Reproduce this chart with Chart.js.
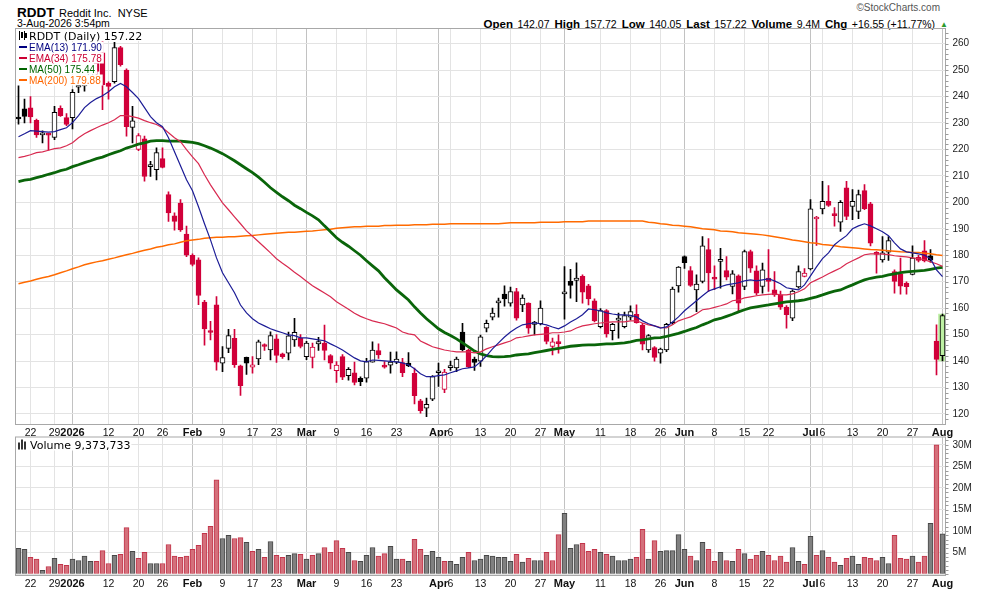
<!DOCTYPE html>
<html>
<head>
<meta charset="utf-8">
<script src="https://cdn.jsdelivr.net/npm/chart.js@4.4.1/dist/chart.umd.min.js"></script>
<style>
body{margin:0;background:#fff;width:990px;height:591px;position:relative;overflow:hidden;font-family:"Liberation Sans",Arial,sans-serif;color:#000}
canvas{position:absolute;left:0}
.t{position:absolute;white-space:nowrap}
#ohlc b{font-size:11.5px}
#ohlc span{font-size:10.5px;margin-right:5px}
#ohlc i{font-style:normal;color:#2d9b2d;font-size:8px;position:relative;top:-1px}
</style>
</head>
<body>
<div class="t" style="left:17px;top:3px"><b style="font-size:13.5px">RDDT</b> <span style="font-size:11px">Reddit Inc.&nbsp; NYSE</span></div>
<div class="t" style="left:17px;top:17px;font-size:10.5px">3-Aug-2026 3:54pm</div>
<div class="t" style="right:50px;top:2px;font-size:10px;color:#555">&copy;StockCharts.com</div>
<div class="t" id="ohlc" style="right:42px;top:14px"></div>
<canvas id="price" width="990" height="440" style="top:0"></canvas>
<canvas id="vol" width="990" height="167" style="top:424px"></canvas>
<script>
// trading days shown
var dates = ['2025-12-18','2025-12-19','2025-12-22','2025-12-23','2025-12-24','2025-12-26','2025-12-29','2025-12-30','2025-12-31',
'2026-01-02','2026-01-05','2026-01-06','2026-01-07','2026-01-08','2026-01-09','2026-01-12','2026-01-13','2026-01-14','2026-01-15','2026-01-16','2026-01-20','2026-01-21','2026-01-22','2026-01-23','2026-01-26','2026-01-27','2026-01-28','2026-01-29','2026-01-30',
'2026-02-02','2026-02-03','2026-02-04','2026-02-05','2026-02-06','2026-02-09','2026-02-10','2026-02-11','2026-02-12','2026-02-13','2026-02-17','2026-02-18','2026-02-19','2026-02-20','2026-02-23','2026-02-24','2026-02-25','2026-02-26','2026-02-27',
'2026-03-02','2026-03-03','2026-03-04','2026-03-05','2026-03-06','2026-03-09','2026-03-10','2026-03-11','2026-03-12','2026-03-13','2026-03-16','2026-03-17','2026-03-18','2026-03-19','2026-03-20','2026-03-23','2026-03-24','2026-03-25','2026-03-26','2026-03-27','2026-03-30','2026-03-31',
'2026-04-01','2026-04-02','2026-04-06','2026-04-07','2026-04-08','2026-04-09','2026-04-10','2026-04-13','2026-04-14','2026-04-15','2026-04-16','2026-04-17','2026-04-20','2026-04-21','2026-04-22','2026-04-23','2026-04-24','2026-04-27','2026-04-28','2026-04-29','2026-04-30',
'2026-05-01','2026-05-04','2026-05-05','2026-05-06','2026-05-07','2026-05-08','2026-05-11','2026-05-12','2026-05-13','2026-05-14','2026-05-15','2026-05-18','2026-05-19','2026-05-20','2026-05-21','2026-05-22','2026-05-26','2026-05-27','2026-05-28','2026-05-29',
'2026-06-01','2026-06-02','2026-06-03','2026-06-04','2026-06-05','2026-06-08','2026-06-09','2026-06-10','2026-06-11','2026-06-12','2026-06-15','2026-06-16','2026-06-17','2026-06-18','2026-06-22','2026-06-23','2026-06-24','2026-06-25','2026-06-26','2026-06-29','2026-06-30',
'2026-07-01','2026-07-02','2026-07-06','2026-07-07','2026-07-08','2026-07-09','2026-07-10','2026-07-13','2026-07-14','2026-07-15','2026-07-16','2026-07-17','2026-07-20','2026-07-21','2026-07-22','2026-07-23','2026-07-24','2026-07-27','2026-07-28','2026-07-29','2026-07-30','2026-07-31',
'2026-08-03'];

var open = [232,235.3,235.7,231,225.5,225.8,224.5,235.5,232,232,
243.5,244,245,254,256.5,245,245.6,258.5,250,228.3,
220,224,213.5,212.3,216.5,202.9,194.9,199.7,188,180,
178.3,162.3,151,161.3,139.2,144.8,148.6,138.2,141.4,137.7,
140.8,145.8,144.2,148.4,142.7,143,148,148.6,141.7,141.4,
146.5,146.8,142.1,136.4,141.7,134.5,135.6,133.5,133.5,139.6,
144,138.5,138.5,139.6,139.4,139.2,135.4,125,122.2,125.6,
135.6,129.3,137.5,137.4,151,144.2,140.8,140,152.4,156.6,
162,165.3,161.9,166.3,161.2,161.9,153.9,154.1,152.8,145.5,
146.9,165.4,170.1,170.5,172,168.4,162.8,153,159.1,151.5,
155.5,153,156.6,157.7,153.6,144.2,145.1,143,144.2,154.5,
168.4,179.5,174.2,166.9,170.1,182.1,171.3,177.7,174.2,168.2,
172.2,168.2,181.4,174.1,168.2,171.4,166.9,165,160.4,156.2,
168,172,174.8,193.7,197.5,200.4,195.3,192.5,205.5,198.5,
196.6,204.4,199.4,181,178.2,181.2,173.8,173,169.5,172.8,
179.2,181.7,179.8,147.6,142.07];

var high = [244.5,239,240,231.5,227,226,236.3,236.5,233.5,242.6,
245,245,252,256,261,245.5,260.5,259,250.5,236.3,
226,225,215.5,220.6,220.6,204,196,201,191,180.5,
179,163,155,164.4,145.5,152,152,138.5,141.5,141.7,
147.9,146.5,151.1,150,143,151,156.2,150,147.5,146.8,
149,153.6,142.5,139.8,142.5,137.5,139.6,134,141,147.3,
146.5,139.8,143.4,143.5,141,143.2,137.4,125.5,126,134.5,
139.2,136.9,140,141.5,154.3,144.5,141.5,149.8,155.5,160,
163.8,168.4,168,167.5,165,162,155,162.8,153,148.7,
149.9,175.7,174.7,177.1,172.6,169,163.5,159.8,159.5,154.3,
158.1,158.5,160.9,161.3,154.3,150,145.5,144.9,154.3,168,
175.7,179.8,175.7,172.6,187.1,186.3,176,182.6,179.5,174.2,
172.6,182,182,176,177,182.1,173.8,166.5,161,166.9,
176,175,201,194.7,207.9,206.3,198,200.7,207.9,204.8,
204.6,206.7,200,181.4,187.1,187.1,174.5,178.9,170,183.6,
180,185.5,182.1,153.7,157.72];

var low = [229.5,230,230,224.5,222.5,219.7,223.7,232.5,229,227.7,
241.4,242,244.5,248,235,239,245,251.5,225,222.5,
219.5,208,209.8,208.5,213,192.8,189.5,189,179.5,176,
161.3,146,148,136.6,136,143.2,137.6,127,135,135.4,
138.6,144,140.4,139.5,141,140.4,145.5,145,140.5,137.4,
144,140.4,137,131.9,133,132.8,131,130.7,132,139.6,
141,137.3,135.4,139,134.1,137.9,123.8,120.3,119,125,
130.4,128.1,136.5,136,143.8,137.5,136.5,138,151,155.6,
156.6,160.8,160.8,155.5,158.7,150.5,149.9,153.7,146.5,142.3,
143,155.8,163.8,162.5,161.9,161.2,154.8,152.5,149,148,
148.7,152.5,155.6,154.3,144.2,143.3,140,139.2,143.6,153.9,
166,175,168.2,158.7,169.5,166.3,167,167.6,170.7,165.4,
158.7,167,173.5,165,165.7,166.3,164.4,159.5,152.4,155.3,
167.6,171.8,174.5,183.7,195.6,198.5,191,189,193.4,193.4,
193.8,197.2,183.5,173.2,177.4,178,165.7,165.3,165.3,172.6,
177.5,177.5,177.4,134.8,140.05];

var close = [231.5,232.5,232.3,225.5,225.8,225.4,234,232.8,229.4,241.6,
244,244.2,251,249.5,244.5,243.8,258.5,252,228.6,230.8,
225.2,209.8,213.8,218.8,213.2,196,192.8,189.6,180,176.5,
164.8,152.2,150.8,139.6,141.3,149.6,138.6,130.7,139.2,138.6,
147.3,145.5,149.6,142.1,141.7,149.5,150.9,145.5,146.8,145.3,
147.4,144,139.2,138.5,133.9,136.9,131.9,132.2,139.8,144.2,
142.3,137.7,139.6,140.8,135.6,138.2,126.9,121.3,123.7,134.1,
136,135.8,138.3,140.8,144.3,137.9,139.5,149.2,154.3,158.1,
162.5,163.5,166.3,156.2,163.8,152.4,154.7,160,147.4,147.3,
146.6,166.2,168.6,171.4,166,163.5,155.2,159.1,150.3,153.9,
155.8,157.2,158.7,154.5,146.4,149.6,141.4,144.5,153.9,167.2,
175.5,177.2,168.6,169.1,183.6,173.3,171,178,171.7,173,
161.9,181.4,175.1,165.7,174.5,170.1,165,160.4,157.5,166.5,
173.8,173.3,197.5,194.4,200.4,198.8,195,200,194.7,200.4,
202.9,197.6,184.6,180.3,180.9,185.5,170.1,168.3,168.1,178.9,
178,177.9,178.1,140.67,157.22];

// volume in millions of shares
var volume = [6.0,5.8,3.9,3.5,0.9,1.8,3.7,2.3,2.1,3.5,
3.2,4.2,3.0,3.0,5.5,2.5,4.4,4.6,10.8,5.3,
3.7,5.1,2.5,2.5,2.5,6.9,4.2,3.9,4.2,5.8,
6.7,9.5,11.1,21.9,8.3,9.0,8.3,8.5,7.4,5.3,
5.8,3.9,7.6,4.4,3.9,4.4,4.8,4.6,3.5,4.4,
4.8,6.2,5.1,7.8,6.0,5.1,3.2,3.0,4.4,6.2,
4.2,4.8,6.5,3.5,3.5,3.0,8.1,5.8,4.4,5.3,
3.9,3.0,3.0,2.3,3.9,5.1,3.2,3.5,4.4,4.2,
3.9,3.9,3.0,4.6,2.8,3.7,3.2,3.2,5.1,3.2,
9.2,14.1,6.0,6.9,7.2,5.3,5.8,5.1,4.6,4.2,
3.2,3.2,3.5,3.9,10.4,3.5,7.8,5.3,5.5,5.5,
9.2,5.8,4.2,3.2,7.4,5.8,3.0,5.1,3.2,3.0,
5.8,4.8,3.5,4.4,5.3,4.4,3.2,4.2,2.8,6.2,
3.0,2.3,8.8,4.4,5.5,3.9,2.8,2.1,3.7,4.2,
2.3,3.9,3.7,3.2,3.9,2.5,9.0,3.7,3.5,4.2,
2.8,4.2,11.8,30.0,9.373733];

var ema13 = [224.8,225.9,227.1,226.9,226.7,226.5,226.7,227.5,228.2,230.1,
232.8,235.8,237.7,239.2,240.3,241.8,243.7,244.9,243.7,241.5,
239.2,235.8,232.4,230.1,228.6,224.4,219.1,213.8,208.5,204.4,
198.3,191.9,185.8,179,173.4,169.6,165.8,161.2,158.2,156,
154.4,153.3,152.2,151.4,150.7,149.9,149.6,148.8,148.8,148.4,
148,147.7,146.5,145.4,144.2,142.7,141.2,140.1,139.7,140.4,
140.3,140.1,139.9,139.7,139.3,138.6,137.1,135.2,134.1,134.1,
134.5,134.8,135.6,136.3,137.1,137.4,137.8,139.7,142,144.6,
146.9,149.1,151,152.5,153.7,154.1,154.4,154.1,153.7,152.9,
152.2,153.3,154.8,156,157.5,159.7,159.4,159,158.2,157.8,
157.5,157.5,157.3,156.7,155.2,154.1,153.3,152.5,152.9,154.8,
156.7,159,160.9,162.8,164.7,166.5,167.3,168.1,168.8,169.2,
169.6,170.3,170.7,170.3,170.7,171.1,170.3,169.2,167.7,167.3,
166.9,168.8,172.2,175.6,178.7,180.9,184,185.8,187.4,190,
191.1,191.9,191.1,190,188.9,187.4,184.7,182.4,181.3,180.9,
180.5,180,178.7,174.5,171.90];

var ema34 = [216.9,217.4,218,218.8,219.1,219.7,220.3,220.6,221.4,222.5,
224.4,225.9,227.1,228.2,229.2,230.1,231.2,232.8,232.8,232.4,
231.8,230.9,230.1,229.4,228.2,226.3,224.4,222.9,219.9,217.2,
214.6,210.4,206.6,203.2,199.8,197.2,194.5,191.9,189.2,187.2,
185.1,183,180.9,178.7,177,175.4,173.6,172,170.2,168.5,
167.1,165.7,164.3,162.4,161,159.6,158.1,156.9,156,155.2,
154.6,154.1,153.3,152.5,151,150.3,149.9,147.6,146.5,145.4,
144.8,144.2,143.8,143.5,143.5,143.5,143.1,143.5,144.6,145.4,
146.1,146.9,147.6,148.8,149.1,149.5,149.9,150.1,150.3,150.7,
150.7,151,151.4,152.5,153.3,153.7,154.1,154.4,154.6,154.8,
154.8,154.8,155.2,155.2,154.4,153.7,153.3,152.7,152.5,153.7,
155.2,156,156.7,157.9,159.4,159.7,160.3,160.9,161.6,162.8,
163.1,163.9,164.3,164.7,165,165.2,165.4,165,165,165.4,
166.2,167.3,169.6,170.7,171.8,173,174.1,175.2,176.8,177.9,
179,180.2,180.5,180.5,180.4,180.2,179.8,179.6,179.4,179,
178.7,178.3,177.5,176.8,175.78];

var ma50 = [207.8,208.4,208.7,209.3,209.9,210.6,211.2,212,212.5,213.5,
214.2,215,215.7,216.5,217.1,218,218.8,219.5,220.5,221.2,
222,222.5,223.1,223.3,223.3,223.1,223.1,223.1,222.9,222.7,
222.2,221.4,220.5,219.5,218.4,217.1,215.7,214.2,212.7,211.2,
209.5,207.6,205.5,203.8,202.1,200.6,198.9,197.6,196.2,194.9,
193.4,191.1,188.9,186.6,184.9,183.4,181.7,180,177.9,176,
174.1,171.5,169.2,166.9,165,163.1,160.5,158.2,156,154.1,
152.2,150.8,149.7,148.4,146.9,145.4,143.8,142.7,142.1,141.7,
141.6,141.7,141.9,142.3,142.5,142.7,143.2,143.6,144,144.4,
144.8,145.2,145.6,145.8,146,146.1,146.1,146.3,146.5,146.5,
146.7,146.9,147.3,147.8,148,148.4,148.8,148.9,149.3,149.9,
150.5,151.2,152,152.7,153.7,154.6,155.6,156.1,156.9,157.7,
158.6,159.4,160.1,160.5,160.9,161.2,161.6,162,162.4,162.6,
162.8,163.1,163.7,164.3,165,165.8,166.4,166.9,167.9,168.8,
169.8,170.7,171.3,171.7,172,172.6,173,173.4,173.7,173.9,
174.1,174.3,174.7,175.1,175.44];

var ma200 = [169.2,169.8,170.3,170.9,171.5,172,172.6,173.4,174.1,174.9,
175.6,176.4,177,177.5,177.9,178.5,179,179.6,180.2,180.7,
181.3,181.9,182.4,183,183.4,184,184.3,184.9,185.5,185.8,
186,186.4,186.6,186.8,186.8,187,187,187.2,187.4,187.5,
187.7,187.9,188.1,188.3,188.5,188.7,188.7,188.9,189.1,189.2,
189.4,189.6,189.8,190.2,190.4,190.6,190.8,190.8,191,191,
191,191.2,191.2,191.3,191.3,191.3,191.5,191.5,191.5,191.7,
191.7,191.7,191.9,191.9,191.9,191.9,191.9,191.9,191.9,191.9,
191.9,192.1,192.3,192.3,192.3,192.3,192.3,192.5,192.5,192.5,
192.5,192.7,192.7,192.7,192.7,192.9,192.9,192.9,192.9,192.9,
192.9,192.9,192.9,192.9,192.9,192.5,192.3,191.9,191.7,191.3,
191.2,191,190.8,190.4,190,189.8,189.6,189.2,189.1,188.9,
188.5,188.3,188.1,187.9,187.7,187.4,187,186.6,186.2,185.8,
185.5,185.1,184.7,184.5,184.1,183.9,183.6,183.2,183,182.8,
182.6,182.4,182.2,182.1,181.9,181.7,181.5,181.3,181.2,181,
181,180.8,180.6,180.2,179.88];

var tickDates = ['2025-12-22','2025-12-29','2026-01-02','2026-01-12','2026-01-20','2026-01-26','2026-02-02','2026-02-09','2026-02-17','2026-02-23',
'2026-03-02','2026-03-09','2026-03-16','2026-03-23','2026-04-01','2026-04-06','2026-04-13','2026-04-20','2026-04-27','2026-05-01',
'2026-05-11','2026-05-18','2026-05-26','2026-06-01','2026-06-08','2026-06-15','2026-06-22','2026-07-01','2026-07-06','2026-07-13',
'2026-07-20','2026-07-27','2026-08-03'];
var tickNames = ['22','29','2026','12','20','26','Feb','9','17','23',
'Mar','9','16','23','Apr','6','13','20','27','May',
'11','18','26','Jun','8','15','22','Jul','6','13',
'20','27','Aug'];

Chart.defaults.font.family = '"Liberation Sans", Arial, sans-serif';
Chart.defaults.color = '#111';

var last = dates.length - 1;
var RED = '#d1003a', BLK = '#000', HIL = '#bdf0a3';
var up = close.map(function (c, i) { return i === 0 || c >= close[i - 1]; });
var candleCol = up.map(function (u) { return u ? BLK : RED; });
var bodyFill = close.map(function (c, i) {
  if (i === last) return HIL;
  return c < open[i] ? candleCol[i] : '#fff';
});

var tickAt = dates.map(function (d) { var k = tickDates.indexOf(d); return k < 0 ? '' : tickNames[k]; });
function isMonth(s) { return s !== '' && !/^\d{1,2}$/.test(s); }

function xScale() {
  return {
    type: 'category', offset: true,
    grid: {
      offset: false, drawTicks: false,
      color: function (c) { var s = tickAt[c.index]; return s === '' ? 'rgba(0,0,0,0)' : (isMonth(s) ? '#c2c2c2' : '#e3e3e3'); }
    },
    border: { display: false },
    ticks: {
      autoSkip: false, maxRotation: 0, minRotation: 0, padding: 2, color: '#111',
      callback: function (v, i) { return tickAt[i]; },
      font: function (c) { var s = tickAt[c.index]; return isMonth(s) ? { size: 11, weight: 'bold' } : { size: 10.5 }; }
    },
    afterFit: function (s) { s.height = 15.5; }
  };
}

// box round the plot and small ticks on the right edge
function framePlugin(step) {
  return {
    id: 'frame',
    afterDraw: function (chart) {
      var c = chart.ctx, a = chart.chartArea, y = chart.scales.y;
      c.save();
      c.strokeStyle = '#a8a8a8'; c.lineWidth = 1;
      c.strokeRect(a.left, a.top, a.right - a.left, a.bottom - a.top);
      c.strokeStyle = '#9a9a9a';
      c.beginPath();
      for (var v = Math.ceil(y.min / step) * step; v <= y.max; v += step) {
        var py = Math.round(y.getPixelForValue(v)) + 0.5;
        c.moveTo(a.right, py); c.lineTo(a.right + 3, py);
      }
      c.stroke();
      c.restore();
    }
  };
}

var maLines = [
  { name: 'EMA(13)', data: ema13, color: '#1c1c96', text: '#000080', width: 1.2 },
  { name: 'EMA(34)', data: ema34, color: '#d82a50', text: '#cc0033', width: 1.2 },
  { name: 'MA(50)', data: ma50, color: '#0a650a', text: '#006400', width: 2.8 },
  { name: 'MA(200)', data: ma200, color: '#ff6a00', text: '#ff6600', width: 1.5 }
];

var priceLegend = {
  id: 'priceLegend',
  afterDatasetsDraw: function (chart) {
    var c = chart.ctx;
    c.save();
    var title = 'RDDT (Daily) ' + close[last].toFixed(2);
    c.font = '11px "DejaVu Sans"';
    var w = c.measureText(title).width;
    c.fillStyle = '#fff';
    c.fillRect(16, 29, 15 + w, 12);
    c.fillStyle = '#000';
    c.fillRect(19, 31, 1, 9); c.fillRect(21, 32, 2, 6);
    c.fillRect(24, 31, 1, 9); c.fillRect(25, 33, 2, 5);
    c.fillText(title, 29, 39.5);
    c.font = '10px "Liberation Sans"';
    maLines.forEach(function (m, k) {
      var base = 50.5 + 11 * k;
      var txt = m.name + ' ' + m.data[last].toFixed(2);
      var tw = c.measureText(txt).width;
      c.fillStyle = '#fff';
      c.fillRect(16, base - 9, 15 + tw, 11);
      c.fillStyle = m.text;
      c.fillRect(19, base - 4.5, 8, 2);
      c.fillText(txt, 29, base);
    });
    c.restore();
  }
};

var datasets = maLines.map(function (m) {
  return { type: 'line', data: m.data, borderColor: m.color, borderWidth: m.width, pointRadius: 0, tension: 0, order: 0 };
});
datasets.push({
  type: 'bar', data: dates.map(function (d, i) { return [open[i], close[i]]; }),
  backgroundColor: bodyFill, borderColor: candleCol, borderWidth: 1, borderSkipped: false,
  barThickness: 5, minBarLength: 2, grouped: false, order: 1
});
datasets.push({
  type: 'bar', data: dates.map(function (d, i) { return [low[i], high[i]]; }),
  backgroundColor: candleCol, borderWidth: 0, barThickness: 1, grouped: false, order: 2
});
datasets.push({
  type: 'bar', data: dates.map(function (d, i) { return i === last ? [low[i], high[i]] : null; }),
  backgroundColor: HIL, borderWidth: 0, barThickness: 8, grouped: false, order: 3
});

new Chart(document.getElementById('price'), {
  type: 'bar',
  data: { labels: dates, datasets: datasets },
  options: {
    responsive: false, animation: false, events: [],
    layout: { padding: { left: 15.5, top: 28.5, right: 0, bottom: 0 } },
    plugins: { legend: { display: false }, tooltip: { enabled: false } },
    scales: {
      x: xScale(),
      y: {
        position: 'right', min: 116.03, max: 265.7,
        grid: { color: '#e3e3e3', drawTicks: false },
        border: { display: false },
        ticks: { stepSize: 10, includeBounds: false, padding: 7, color: '#222', font: { size: 10 } },
        afterFit: function (s) { s.width = 44.5; }
      }
    }
  },
  plugins: [priceLegend, framePlugin(2)]
});

// volume panel; its canvas starts 12.5px above the plot box
var volTop = 12.5;
var volLegend = {
  id: 'volLegend',
  afterDatasetsDraw: function (chart) {
    var c = chart.ctx;
    c.save();
    var txt = 'Volume ' + Math.round(volume[last] * 1e6).toLocaleString('en-US');
    c.font = '11px "DejaVu Sans"';
    var w = c.measureText(txt).width;
    c.fillStyle = '#fff';
    c.fillRect(16, volTop + 1, 15 + w, 13);
    c.fillStyle = '#333';
    c.fillRect(18, volTop + 6, 2, 7); c.fillRect(21, volTop + 3, 2, 10); c.fillRect(24, volTop + 5, 2, 8);
    c.fillStyle = '#000';
    c.fillText(txt, 30, volTop + 12);
    c.restore();
  }
};

new Chart(document.getElementById('vol'), {
  type: 'bar',
  data: {
    labels: dates,
    datasets: [{
      data: volume,
      backgroundColor: up.map(function (u) { return u ? '#808080' : '#d4707b'; }),
      borderColor: up.map(function (u) { return u ? '#474747' : '#c2344a'; }),
      borderWidth: 1, barThickness: 5
    }]
  },
  options: {
    responsive: false, animation: false, events: [],
    layout: { padding: { left: 15.5, top: volTop, right: 0, bottom: 0 } },
    plugins: { legend: { display: false }, tooltip: { enabled: false } },
    scales: {
      x: xScale(),
      y: {
        position: 'right', min: -0.28, max: 31.8,
        grid: { color: '#e3e3e3', drawTicks: false },
        border: { display: false },
        ticks: { stepSize: 5, includeBounds: false, padding: 7, color: '#222', font: { size: 10 },
          callback: function (v) { return v > 0 ? v + 'M' : ''; } },
        afterFit: function (s) { s.width = 44.5; }
      }
    }
  },
  plugins: [volLegend, framePlugin(1)]
});

// quote line in the header
var chg = close[last] - close[last - 1];
var pct = chg / close[last - 1] * 100;
document.getElementById('ohlc').innerHTML =
  '<b>Open</b> <span>' + open[last].toFixed(2) + '</span>' +
  '<b>High</b> <span>' + high[last].toFixed(2) + '</span>' +
  '<b>Low</b> <span>' + low[last].toFixed(2) + '</span>' +
  '<b>Last</b> <span>' + close[last].toFixed(2) + '</span>' +
  '<b>Volume</b> <span>' + volume[last].toFixed(1) + 'M</span>' +
  '<b>Chg</b> <span>' + (chg >= 0 ? '+' : '') + chg.toFixed(2) + ' (' + (pct >= 0 ? '+' : '') + pct.toFixed(2) + '%)</span><i>&#9650;</i>';
</script>
</body>
</html>
